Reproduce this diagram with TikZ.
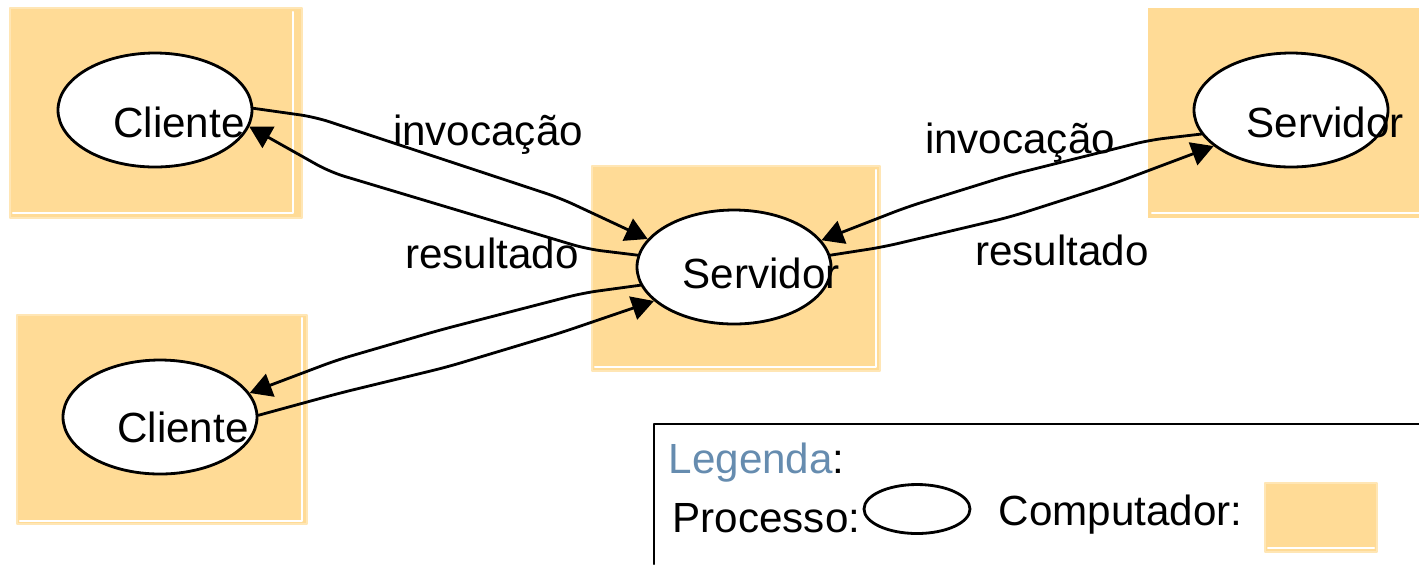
\documentclass[tikz,border=0pt]{standalone}
\usepackage{fontspec}
\setmainfont{Liberation Sans}
\usetikzlibrary{shapes.geometric,arrows.meta}
\definecolor{laranja}{RGB}{255,219,150}
\definecolor{azul}{RGB}{102,140,175}
\begin{document}
\begin{tikzpicture}[x=0.1mm,y=-0.1mm,>={Triangle[length=2.2mm,width=2.4mm]},
		font=\fontsize{12}{14}\selectfont, line join=round, line cap=round,
		comp/.style={fill=laranja,draw=laranja!70,line width=0.4pt},
		brilho/.style={draw=white,line width=0.6pt},
		proc/.style={ellipse,draw,fill=white,line width=0.8pt,minimum width=19.4mm,minimum height=11.4mm,inner sep=0pt},
		txt/.style={inner sep=0pt,anchor=base},
		seta/.style={->,line width=0.8pt,rounded corners=1.5mm}]
		\useasboundingbox (0,0) rectangle (1419,564);
		% computadores
		\draw[comp] (10,8) rectangle (302,218);   \draw[brilho] (13,213)--(293,213)--(293,12);
		\draw[comp] (17,315) rectangle (307,524); \draw[brilho] (20,521)--(302,521)--(302,318);
		\draw[comp] (592,166) rectangle (880,371); \draw[brilho] (595,367)--(876,367)--(876,170);
		\fill[laranja] (1148,8) rectangle (1419,218); \draw[brilho] (1152,213)--(1419,213);
		% processos
		\node[proc] (c1) at (155,110) {};
		\node[proc] (c2) at (160,417) {};
		\node[proc] (s) at (734,267) {};
		\node[proc] (s2) at (1291,110) {};
		\node[txt] (c1t) at (179,137) {Cliente};
		\node[txt] (c2t) at (183,442) {Cliente};
		\node[txt] (st) at (761,288) {Servidor};
		\node[txt] (s2t) at (1325,137) {Servidor};
		% invocacao / resultado
		\draw[seta] (c1.1)--(315,117)--(560,198)--(s.162);
		\draw[seta] (s.173)--(587,249)--(330,172)--(c1.350);
		\draw[seta] (s.191)--(583,293)--(440,330)--(337,360)--(c2.15);
		\draw[seta] (c2.1)--(340,393)--(447,367)--(560,333)--(s.203);
		\draw[seta] (s2.195)--(1150,140)--(1010,175)--(907,207)--(s.17);
		\draw[seta] (s.7)--(883,247)--(1010,217)--(1110,185)--(s2.205);
		\node[txt] (inv1) at (488,145) {invocação};
		\node[txt] (res1) at (492,268) {resultado};
		\node[txt] (inv2) at (1020,153) {invocação};
		\node[txt] (res2) at (1062,265) {resultado};
		% legenda
		\draw[line width=0.8pt] (1419,424)--(654,424)--(654,564);
		\node[txt,anchor=base west] (leg) at (668,473) {\textcolor{azul}{Legenda}:};
		\node[txt,anchor=base west] (lproc) at (672,532) {Processo:};
		\node[ellipse,draw,line width=0.8pt,minimum width=10.6mm,minimum height=4.9mm,inner sep=0pt] (lell) at (917,509) {};
		\node[txt,anchor=base west] (lcomp) at (998,525) {Computador:};
		\draw[comp] (1265,483) rectangle (1377,552); \draw[brilho] (1268,548)--(1374,548);
\end{tikzpicture}
\end{document}
